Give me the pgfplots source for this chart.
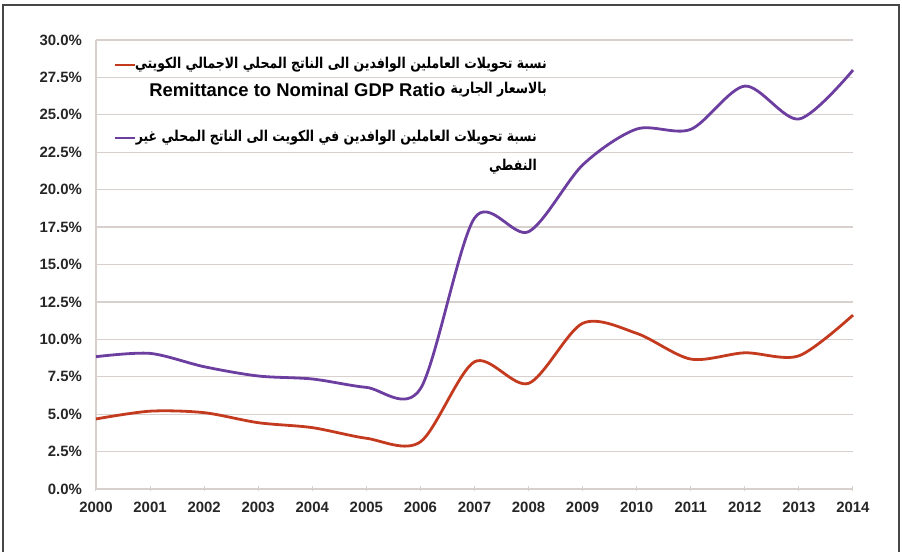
\documentclass[border=0pt]{standalone}
\usepackage{pgfplots}
\pgfplotsset{compat=1.18}
\usepackage{fontspec}
\setmainfont{Liberation Sans}
\newfontfamily\arabicfont[Script=Arabic]{DejaVu Sans}
\TeXXeTstate=1
\definecolor{gridc}{RGB}{216,208,204}
\definecolor{redc}{RGB}{196,58,30}
\definecolor{purc}{RGB}{108,62,160}
\definecolor{framec}{RGB}{70,70,70}
\begin{document}
\begin{tikzpicture}[x=1bp,y=1bp]
\begin{axis}[
  at={(0,0)}, anchor=south west,
  scale only axis, width=757bp, height=449bp,
  xmin=2000, xmax=2014, ymin=0, ymax=30,
  xtick={2000,...,2014}, ytick={0,2.5,...,30},
  axis x line=bottom, axis y line=left,
  axis line style={-, draw=gridc, line width=1.2bp},
  x tick style={draw=gridc, line width=1bp}, major tick length=5bp,
  tick align=center,
  y tick style={draw=none},
  ymajorgrids, grid style={draw=gridc, line width=1.3bp},
  /pgf/number format/assume math mode=true,
  /pgf/number format/1000 sep={},
  tick label style={font=\fontsize{15}{17}\selectfont\bfseries, text=black!85},
  yticklabel={\pgfmathprintnumber[fixed,fixed zerofill,precision=1]{\tick}\%},
  yticklabel style={xshift=-8bp},
  xticklabel style={yshift=-7bp},
  clip=false,
]
\addplot[smooth, tension=0.5, color=redc, line width=2.8bp] coordinates {
(2000,4.68) (2001,5.2) (2002,5.1) (2003,4.43) (2004,4.1) (2005,3.39) (2006,3.15)
(2007,8.5) (2008,7.06) (2009,11.07) (2010,10.4) (2011,8.68) (2012,9.1) (2013,8.9) (2014,11.62)};
\addplot[smooth, tension=0.5, color=purc, line width=2.8bp] coordinates {
(2000,8.84) (2001,9.06) (2002,8.17) (2003,7.55) (2004,7.35) (2005,6.79) (2006,6.7)
(2007,18.1) (2008,17.19) (2009,21.65) (2010,24.05) (2011,24.03) (2012,26.92) (2013,24.72) (2014,27.99)};
\end{axis}
% legend
\draw[redc, line width=2.8bp] (19,424) -- (39,424);
\node[anchor=east, inner sep=0pt, font=\bfseries] at (451,424) {\scalebox{1}[1.2]{\fontsize{12.5}{15}\arabicfont\beginR نسبة تحويلات العاملين الوافدين الى الناتج المحلي الاجمالي الكويتي\endR}};
\node[anchor=east, inner sep=0pt, font=\bfseries] (ar2) at (451,399) {\scalebox{1}[1.2]{\fontsize{12.5}{15}\arabicfont\beginR بالاسعار الجارية\endR}};
\node[anchor=east, inner sep=0pt, font=\fontsize{18.5}{20}\selectfont\bfseries] at ([xshift=-5bp]ar2.west) {Remittance to Nominal GDP Ratio};
\draw[purc, line width=2.8bp] (19,351) -- (39,351);
\node[anchor=east, inner sep=0pt, font=\bfseries] at (441,351) {\scalebox{1}[1.2]{\fontsize{12.5}{15}\arabicfont\beginR نسبة تحويلات العاملين الوافدين في الكويت الى الناتج المحلي غير\endR}};
\node[anchor=east, inner sep=0pt, font=\bfseries] at (441,322) {\scalebox{1}[1.2]{\fontsize{12.5}{15}\arabicfont\beginR النفطي\endR}};
% frame
\draw[framec, line width=1.3bp] (-93,-70) -- (-93,484) -- (803,484) -- (803,-70);
\pgfresetboundingbox
\useasboundingbox (-96,-63) rectangle (806,489);
\end{tikzpicture}
\end{document}
